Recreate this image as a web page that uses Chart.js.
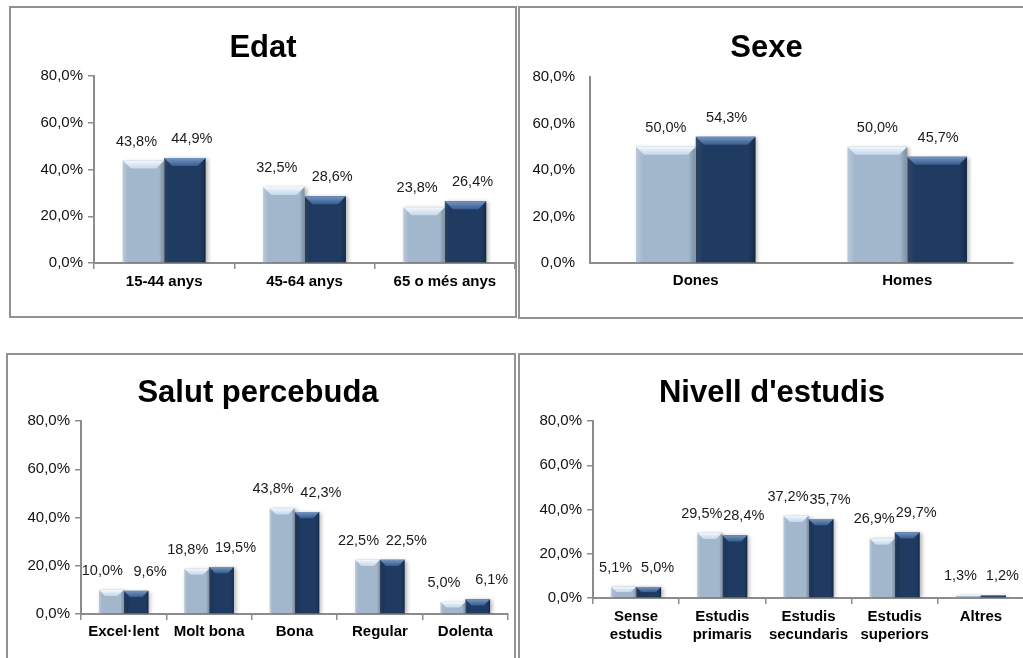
<!DOCTYPE html>
<html>
<head>
<meta charset="utf-8">
<script src="https://cdn.jsdelivr.net/npm/chart.js@4.4.0/dist/chart.umd.min.js"></script>
<style>
  body { margin: 0; background: #fff; width: 1023px; height: 658px; overflow: hidden; position: relative; }
  .panel { position: absolute; border: 2px solid #929292; background: #fff; }
  .panel canvas { display: block; }
</style>
</head>
<body>
<div class="panel" style="left:9px;top:6px;"><canvas id="edatChart" width="504" height="308"></canvas></div>
<div class="panel" style="left:518px;top:6px;"><canvas id="sexeChart" width="510" height="309"></canvas></div>
<div class="panel" style="left:6px;top:353px;"><canvas id="salutChart" width="506" height="310"></canvas></div>
<div class="panel" style="left:518px;top:353px;"><canvas id="estudisChart" width="510" height="310"></canvas></div>

<script>
// Dades dels quatre gràfics (percentatges)
const yTicks = [0, 20, 40, 60, 80];

const edatCats = ['15-44 anys', '45-64 anys', '65 o més anys'];
const edatSerie1 = [43.8, 32.5, 23.8];
const edatSerie2 = [44.9, 28.6, 26.4];

const sexeCats = ['Dones', 'Homes'];
const sexeSerie1 = [50.0, 50.0];
const sexeSerie2 = [54.3, 45.7];

const salutCats = ['Excel·lent', 'Molt bona', 'Bona', 'Regular', 'Dolenta'];
const salutSerie1 = [10.0, 18.8, 43.8, 22.5, 5.0];
const salutSerie2 = [9.6, 19.5, 42.3, 22.5, 6.1];

const estudisCats = [['Sense', 'estudis'], ['Estudis', 'primaris'], ['Estudis', 'secundaris'], ['Estudis', 'superiors'], 'Altres'];
const estudisSerie1 = [5.1, 29.5, 37.2, 26.9, 1.3];
const estudisSerie2 = [5.0, 28.4, 35.7, 29.7, 1.2];

const FONT = "'Liberation Sans', Arial, sans-serif";
const AXIS = '#8c8c8c';
const LIGHT = '#a3b7cc';
const DARK = '#1f3b62';

const fmt = v => Number(v).toFixed(1).replace('.', ',') + '%';

// Bisell a la part superior de cada barra, ombra i etiquetes de valor
const bevelPlugin = {
  id: 'bevel',
  beforeDatasetsDraw(chart) {
    const ctx = chart.ctx;
    ctx.save();
    ctx.shadowColor = 'rgba(0,0,0,0.3)';
    ctx.shadowBlur = 4;
    ctx.shadowOffsetX = 2;
    ctx.shadowOffsetY = 1;
  },
  afterDatasetsDraw(chart, args, opts) {
    const ctx = chart.ctx;
    ctx.restore();
    chart.data.datasets.forEach((ds, di) => {
      const light = di === 0;
      chart.getDatasetMeta(di).data.forEach(el => {
        const { x, y, base, width } = el.getProps(['x', 'y', 'base', 'width'], true);
        const l = x - width / 2, r = x + width / 2, h = base - y;
        if (h <= 0) return;
        const d = Math.min(8, h / 2, width / 4);

        // ombrejat lateral
        const g = ctx.createLinearGradient(l, 0, r, 0);
        g.addColorStop(0, light ? 'rgba(255,255,255,0.25)' : 'rgba(255,255,255,0.10)');
        g.addColorStop(0.12, 'rgba(255,255,255,0)');
        g.addColorStop(0.88, 'rgba(0,0,0,0)');
        g.addColorStop(1, light ? 'rgba(40,60,90,0.30)' : 'rgba(0,0,0,0.30)');
        ctx.fillStyle = g;
        ctx.fillRect(l, y, width, h);

        // cara superior
        const t = ctx.createLinearGradient(0, y, 0, y + d);
        t.addColorStop(0, light ? '#f3f8fd' : '#7396c3');
        t.addColorStop(1, light ? '#c3d7ea' : '#3a5d90');
        ctx.fillStyle = t;
        ctx.beginPath();
        ctx.moveTo(l, y);
        ctx.lineTo(r, y);
        ctx.lineTo(r - d, y + d);
        ctx.lineTo(l + d, y + d);
        ctx.closePath();
        ctx.fill();
      });
    });

    // etiquetes de valor
    ctx.save();
    ctx.font = '14.5px ' + FONT;
    ctx.fillStyle = '#1a1a1a';
    ctx.textAlign = 'center';
    ctx.textBaseline = 'middle';
    chart.data.datasets.forEach((ds, di) => {
      chart.getDatasetMeta(di).data.forEach((el, i) => {
        const { x, y } = el.getProps(['x', 'y'], true);
        ctx.fillText(fmt(ds.data[i]), x + opts.shift[di], y - 19);
      });
    });
    ctx.restore();
  }
};

function buildChart(id, title, cats, serie1, serie2, L) {
  const canvas = document.getElementById(id);
  const H = canvas.height;
  const lh = 31 * 1.2;
  return new Chart(canvas, {
    type: 'bar',
    data: {
      labels: cats,
      datasets: [
        { label: 'Sèrie 1', data: serie1, backgroundColor: LIGHT, borderWidth: 0, categoryPercentage: L.catPct, barPercentage: 1 },
        { label: 'Sèrie 2', data: serie2, backgroundColor: DARK, borderWidth: 0, categoryPercentage: L.catPct, barPercentage: 1 }
      ]
    },
    options: {
      responsive: false,
      animation: false,
      layout: { padding: { left: 0, right: L.padRight, top: 0, bottom: 0 } },
      plugins: {
        legend: { display: false },
        tooltip: { enabled: false },
        title: {
          display: true,
          text: title,
          color: '#000',
          font: { family: FONT, size: 31, weight: 'bold', lineHeight: 1.2 },
          padding: { top: L.titleY - lh / 2, bottom: L.top - L.titleY - lh / 2 }
        },
        bevel: { shift: L.shift }
      },
      scales: {
        x: {
          grid: { display: true, drawOnChartArea: false, drawTicks: L.xTicks, tickLength: 6, color: AXIS, lineWidth: 1.5, offset: true },
          border: { display: true, color: AXIS, width: 2 },
          ticks: {
            color: '#000',
            font: { family: FONT, size: 15, weight: 'bold', lineHeight: 1.2 },
            padding: L.xPad,
            maxRotation: 0,
            autoSkip: false
          },
          afterFit: s => { s.height = H - L.bottom; }
        },
        y: {
          min: yTicks[0],
          max: yTicks[yTicks.length - 1],
          afterBuildTicks: s => { s.ticks = yTicks.map(v => ({ value: v })); },
          grid: { display: true, drawOnChartArea: false, drawTicks: L.yTicks, tickLength: 6, color: AXIS, lineWidth: 1.5 },
          border: { display: true, color: AXIS, width: 2 },
          ticks: {
            color: '#111',
            font: { family: FONT, size: 15 },
            padding: L.yPad,
            callback: v => fmt(v)
          },
          afterFit: s => { s.width = L.left; }
        }
      }
    },
    plugins: [bevelPlugin]
  });
}

buildChart('edatChart', 'Edat', edatCats, edatSerie1, edatSerie2,
  { left: 83, top: 68, bottom: 255, padRight: 0, titleY: 40, catPct: 0.59, xTicks: true, yTicks: true, xPad: 4, yPad: 5, shift: [-7, 7] });

buildChart('sexeChart', 'Sexe', sexeCats, sexeSerie1, sexeSerie2,
  { left: 70, top: 69, bottom: 255, padRight: 17, titleY: 40, catPct: 0.565, xTicks: false, yTicks: false, xPad: 9, yPad: 15, shift: [0, 1] });

buildChart('salutChart', 'Salut percebuda', salutCats, salutSerie1, salutSerie2,
  { left: 73, top: 66, bottom: 259, padRight: 6, titleY: 38, catPct: 0.58, xTicks: true, yTicks: true, xPad: 3, yPad: 5, shift: [-9, 14] });

buildChart('estudisChart', "Nivell d'estudis", estudisCats, estudisSerie1, estudisSerie2,
  { left: 73, top: 66, bottom: 243, padRight: 6, titleY: 38, catPct: 0.58, xTicks: true, yTicks: true, xPad: 4, yPad: 5, shift: [-8, 9] });
</script>
</body>
</html>
